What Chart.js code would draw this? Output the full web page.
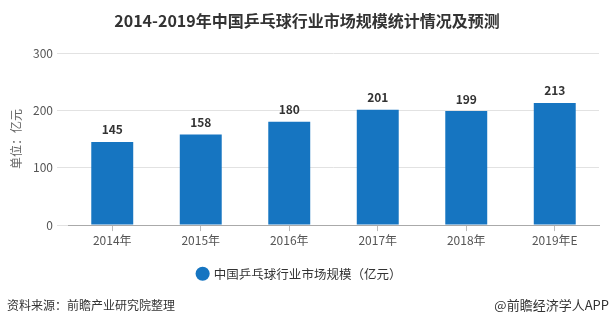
<!DOCTYPE html>
<html>
<head>
<meta charset="utf-8">
<script src="https://cdn.jsdelivr.net/npm/chart.js@4.4.0/dist/chart.umd.min.js"></script>
<style>
  html, body { margin: 0; padding: 0; background: #fff; }
  #wrap { position: relative; width: 614px; height: 325px; overflow: hidden;
    font-family: 'Noto Sans CJK SC', 'Noto Sans', sans-serif; }
  #chart { position: absolute; left: 0; top: 0; }
  .title { position: absolute; left: 0; width: 614px; top: 8px; line-height: 24px; text-align: center;
    font-size: 16px; font-weight: bold; color: #333; white-space: nowrap; }
  .source { position: absolute; left: 7px; top: 296px; line-height: 18px; font-size: 12px; color: #333; }
  .brand { position: absolute; right: 5px; top: 296px; line-height: 18px; font-size: 13px; color: #333; }
</style>
</head>
<body>
<div id="wrap">
  <canvas id="chart" width="614" height="325"></canvas>
  <div class="title">2014-2019年中国乒乓球行业市场规模统计情况及预测</div>
  <div class="source">资料来源：前瞻产业研究院整理</div>
  <div class="brand">@前瞻经济学人APP</div>
</div>
<script>
// Chart data
const years = ['2014年', '2015年', '2016年', '2017年', '2018年', '2019年E'];
const marketSize = [145, 158, 180, 201, 199, 213];
const seriesName = '中国乒乓球行业市场规模（亿元）';
const yTitle = '单位：亿元';

const fontFamily = "'Noto Sans CJK SC', 'Noto Sans', sans-serif";
const barColor = '#1675C1';

// Value labels above bars
const valueLabels = {
  id: 'valueLabels',
  afterDatasetsDraw(chart) {
    const ctx = chart.ctx;
    const meta = chart.getDatasetMeta(0);
    ctx.save();
    ctx.font = 'bold 12px ' + fontFamily;
    ctx.fillStyle = '#333';
    ctx.textAlign = 'center';
    ctx.textBaseline = 'middle';
    meta.data.forEach((bar, i) => {
      ctx.fillText(chart.data.datasets[0].data[i], bar.x, bar.y - 12);
    });
    ctx.restore();
  }
};

new Chart(document.getElementById('chart').getContext('2d'), {
  type: 'bar',
  data: {
    labels: years,
    datasets: [{
      label: seriesName,
      data: marketSize,
      backgroundColor: barColor,
      categoryPercentage: 1,
      barPercentage: 0.474
    }]
  },
  options: {
    responsive: false,
    animation: false,
    layout: { padding: { top: 53, right: 15, bottom: 35, left: 0 } },
    plugins: {
      legend: {
        position: 'bottom',
        labels: {
          usePointStyle: true,
          pointStyle: 'circle',
          boxWidth: 10,
          boxHeight: 10,
          padding: 18,
          color: '#333',
          font: { family: fontFamily, size: 12.5 }
        }
      },
      tooltip: { enabled: false }
    },
    scales: {
      x: {
        grid: { drawOnChartArea: false, drawTicks: true, tickLength: 6, offset: false, color: '#bbb' },
        border: { color: '#aaa' },
        ticks: { color: '#555', padding: 2, font: { family: fontFamily, size: 12 } }
      },
      y: {
        min: 0,
        max: 300,
        afterFit(scale) { scale.width = 68; },
        ticks: { stepSize: 100, color: '#555', padding: 4, font: { family: fontFamily, size: 12 } },
        grid: { color: '#e2e2e2', tickLength: 11 },
        border: { display: false },
        title: {
          display: true,
          text: yTitle,
          color: '#666',
          padding: { top: 9, bottom: 0 },
          font: { family: fontFamily, size: 12 }
        }
      }
    }
  },
  plugins: [valueLabels]
});
</script>
</body>
</html>
